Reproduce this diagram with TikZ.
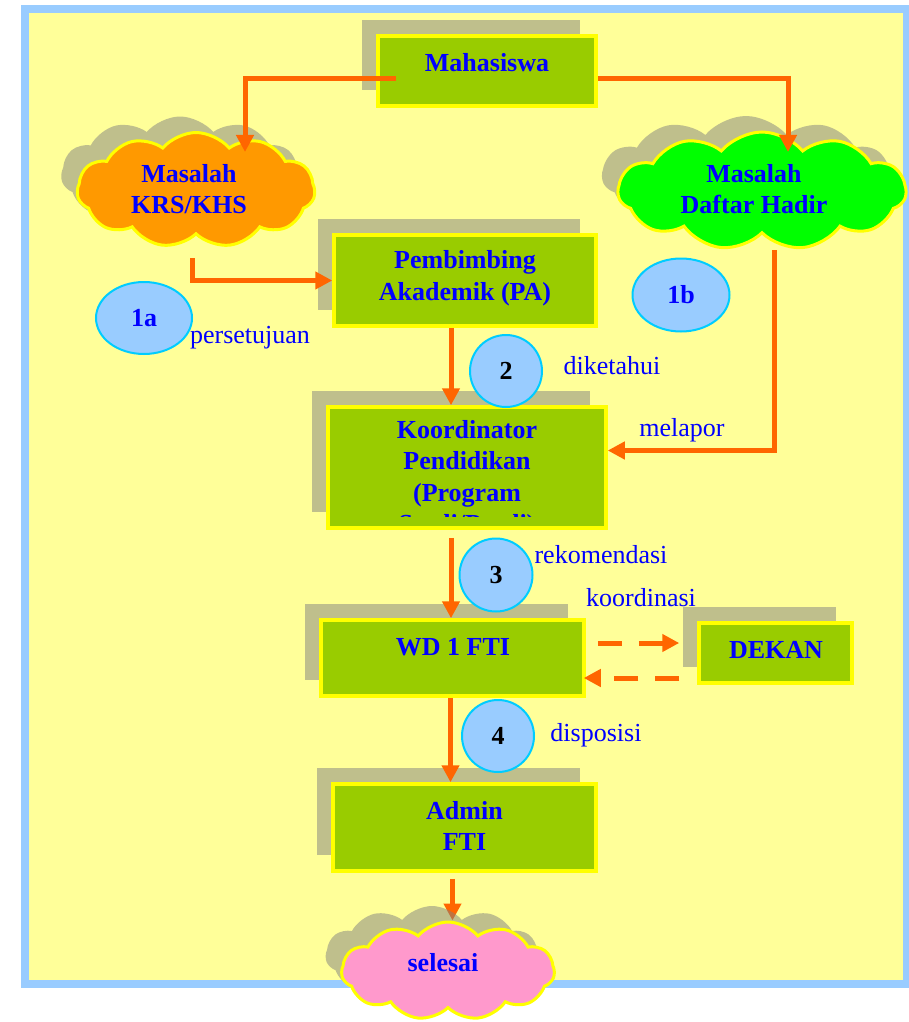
\documentclass[tikz,border=0pt]{standalone}
\usepackage{fontspec}
\setmainfont{Liberation Serif}
\usetikzlibrary{shapes.symbols,shapes.geometric,arrows.meta,calc,shadows}

\definecolor{paper}{HTML}{FFFF99}
\definecolor{frameblue}{HTML}{99CCFF}
\definecolor{boxgreen}{HTML}{99CC00}
\definecolor{edgeyellow}{HTML}{FFFF00}
\definecolor{flow}{HTML}{FF6600}
\definecolor{ink}{HTML}{0000FF}
\definecolor{krsorange}{HTML}{FF9900}
\definecolor{hadirgreen}{HTML}{00FF00}
\definecolor{donepink}{HTML}{FF99CC}
\definecolor{badgefill}{HTML}{99CCFF}
\definecolor{badgeedge}{HTML}{00CCFF}

\pgfdeclarelayer{bg}
\pgfdeclarelayer{low}
\pgfsetlayers{bg,low,main}

\begin{document}
\begin{tikzpicture}[x=1pt,y=-1pt,
  shade/.style={general shadow={fill=gray, fill opacity=0.5, shadow xshift=-16pt, shadow yshift=16pt}},
  unit/.style={rectangle, fill=boxgreen, draw=edgeyellow, line width=3.5pt, inner sep=0pt, shade},
  unittext/.style={text=ink, font=\fontsize{26}{31.5}\selectfont\bfseries, align=center, inner sep=0pt},
  puff/.style={cloud, cloud puffs=11, cloud puff arc=100, cloud ignores aspect, inner sep=0pt,
    draw=edgeyellow, line width=3pt, shade},
  badge/.style={ellipse, fill=badgefill, draw=badgeedge, line width=2pt, inner sep=0pt,
    font=\fontsize{26}{30}\selectfont\bfseries},
  note/.style={text=ink, font=\fontsize{26}{30}\selectfont, inner sep=0pt},
  flowline/.style={draw=flow, line width=5pt, -{Triangle[length=17pt,width=17pt]}},
  flowdash/.style={flowline, dash pattern=on 24pt off 17pt},
]
\useasboundingbox (0,0) rectangle (909,1022);

% page frame
\begin{pgfonlayer}{bg}
  \fill[paper] (25,9) rectangle (907,983.5);
  \draw[frameblue, line width=8pt] (25,9) rectangle (907,983.5);
\end{pgfonlayer}

% process boxes
\node[unit, minimum width=218pt, minimum height=70pt] (maha) at (487,71) {};
\node[unittext] (mahat) at (487,63) {Mahasiswa};

\node[unit, minimum width=262pt, minimum height=91pt] (pa) at (465,280.5) {};
\node[unittext] (pat) at (465,278) {Pembimbing\\Akademik (PA)};

\node[unit, minimum width=278pt, minimum height=121pt] (koord) at (467,467.5) {};
\begin{scope}
  \clip (320,400) rectangle (615,516);
  \node[unittext] (koordt) at (467,479) {Koordinator\\Pendidikan\\(Program\\Studi/Prodi)};
\end{scope}

\node[unit, minimum width=263pt, minimum height=76pt] (wd1) at (452.5,658) {};
\node[unittext] (wd1t) at (453,647) {WD 1 FTI};

\node[unit, minimum width=153pt, minimum height=60pt] (dekan) at (775.5,653) {};
\node[unittext] (dekant) at (776,650) {DEKAN};

\node[unit, minimum width=263pt, minimum height=87pt] (admin) at (464.5,827.5) {};
\node[unittext] (admint) at (464.5,826) {Admin\\FTI};

% problem clouds
\node[puff, fill=krsorange, minimum width=238pt, minimum height=115pt] (krs) at (196,190) {};
\node[unittext] (krst) at (189,189) {Masalah\\KRS/KHS};

\node[puff, fill=hadirgreen, minimum width=288pt, minimum height=118pt] (hadir) at (762,191) {};
\node[unittext] (hadirt) at (754,189) {Masalah\\Daftar Hadir};

\node[puff, fill=donepink, minimum width=213pt, minimum height=98pt] (sel) at (448,971) {};
\node[unittext] (selt) at (443,963) {selesai};

% step badges
\node[badge, text=ink, minimum width=96pt, minimum height=72pt] (b1a) at (144,318) {1a};
\node[badge, text=ink, minimum width=97pt, minimum height=73pt] (b1b) at (681,295) {1b};
\node[badge, circle, minimum size=72pt] (b2) at (506,371) {2};
\node[badge, circle, minimum size=73pt] (b3) at (496,575) {3};
\node[badge, circle, minimum size=72pt] (b4) at (498,736) {4};

% connector labels
\node[note] (lpersetujuan) at (250,338) {persetujuan};
\node[note] (ldiketahui) at (612,366) {diketahui};
\node[note] (lmelapor) at (682,430) {melapor};
\node[note] (lrekomendasi) at (601,555) {rekomendasi};
\node[note] (lkoordinasi) at (641,598) {koordinasi};
\node[note] (ldisposisi) at (596,735) {disposisi};

% connector end points
\coordinate (mahaL) at ($(maha.west)+(20,8)$);
\coordinate (mahaR) at ($(maha.east)+(0,8)$);
\coordinate (krsIn) at ($(krs.center)+(49,-38)$);
\coordinate (hadirIn) at ($(hadir.center)+(26,-39)$);
\coordinate (krsOut) at ($(krs.center)+(-4,68)$);
\coordinate (paOut) at ($(pa.south)+(-14,0)$);
\coordinate (hadirOut) at ($(hadir.center)+(12,59)$);
\coordinate (koordIn) at ($(koord.east)+(0,-17)$);
\coordinate (koordOut) at ($(koord.south)+(-16,8)$);
\coordinate (wdOut) at ($(wd1.south)+(-2,0)$);
\coordinate (adminOut) at ($(admin.south)+(-12,6)$);
\coordinate (wdR1) at ($(wd1.east)+(12,-15)$);
\coordinate (wdR2) at ($(wd1.east)+(-2,20)$);
\coordinate (dekL1) at ($(dekan.west)+(-18,-10)$);
\coordinate (dekL2) at ($(dekan.west)+(-18,25)$);

% flow connectors
\draw[flowline] (mahaL) -| (krsIn);
\draw[flowline] (mahaR) -| (hadirIn);
\draw[flowline] (krsOut) |- (pa.west);
\draw[flowline] (paOut) -- (paOut |- koord.north);
\draw[flowline] (hadirOut) |- (koordIn);
\draw[flowline] (koordOut) -- (koordOut |- wd1.north);
\draw[flowline] (wdOut) -- (wdOut |- admin.north);
\draw[flowdash] (wdR1) -- (dekL1);
\draw[flowdash] (dekL2) -- (wdR2);
\begin{pgfonlayer}{low}
  \draw[flowline] (adminOut) -- (adminOut |- sel.north);
\end{pgfonlayer}
\end{tikzpicture}
\end{document}
